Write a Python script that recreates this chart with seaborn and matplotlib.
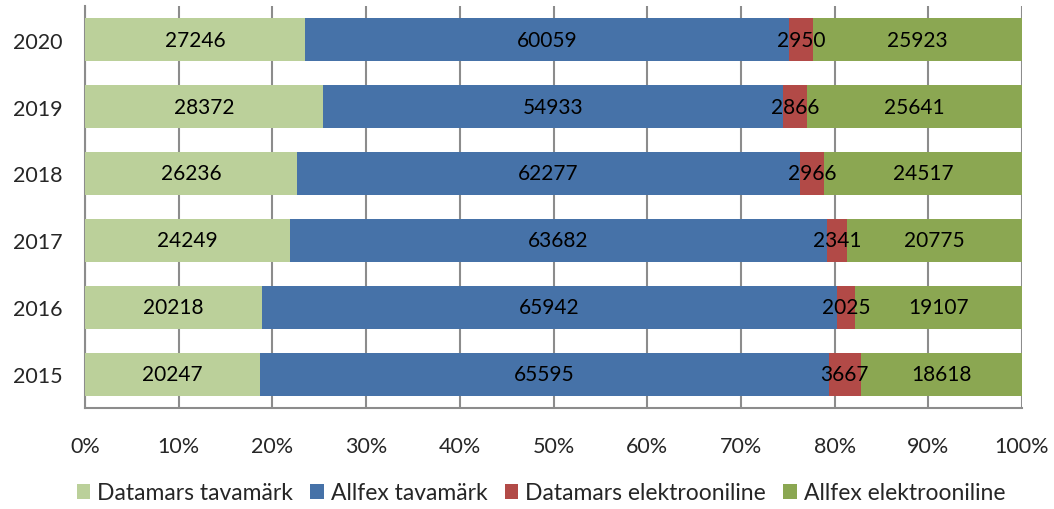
import matplotlib
matplotlib.use("Agg")
import matplotlib.pyplot as plt
from matplotlib.patches import Patch
import seaborn as sns
import pandas as pd
import numpy as np

years = ["2020", "2019", "2018", "2017", "2016", "2015"]
series_names = ["Datamars tavamärk", "Allfex tavamärk", "Datamars elektrooniline", "Allfex elektrooniline"]
datamars_tava = [27246, 28372, 26236, 24249, 20218, 20247]
allfex_tava = [60059, 54933, 62277, 63682, 65942, 65595]
datamars_elek = [2950, 2866, 2966, 2341, 2025, 3667]
allfex_elek = [25923, 25641, 24517, 20775, 19107, 18618]
colors = ["#BBD09A", "#4672A8", "#B24A47", "#8BA752"]
tick_labels = ["0%", "10%", "20%", "30%", "40%", "50%", "60%", "70%", "80%", "90%", "100%"]

sns.set_theme(style="white")
plt.rcParams["font.family"] = ["Lato", "DejaVu Sans"]

vals = np.array([datamars_tava, allfex_tava, datamars_elek, allfex_elek], dtype=float)
totals = vals.sum(axis=0)
pct = vals / totals * 100
cum = np.cumsum(pct, axis=0)

fig = plt.figure(figsize=(10.54, 5.10), dpi=100)
ax = fig.add_axes([85/1054, 1-409/510, (1022-85)/1054, (409-7)/510])

for i in range(3, -1, -1):
    df = pd.DataFrame({"year": years, "cum": cum[i]})
    sns.barplot(data=df, x="cum", y="year", order=years, color=colors[i],
                width=0.64, orient="h", ax=ax, saturation=1, zorder=3, linewidth=0)

for i in range(4):
    for j, y in enumerate(years):
        start = cum[i][j] - pct[i][j]
        ax.text(start + pct[i][j] / 2, j, f"{int(vals[i][j])}", ha="center", va="center",
                fontsize=15, color="black", zorder=5)

ax.set_xlim(0, 100)
ax.set_ylim(5.5, -0.5)
ax.set_xticks(np.arange(0, 101, 10))
ax.set_xticklabels(tick_labels)
ax.set_xlabel("")
ax.set_ylabel("")
ax.tick_params(axis="x", labelsize=15.5, pad=20, length=0)
ax.tick_params(axis="y", labelsize=15.5, pad=16, length=0)
ax.grid(axis="x", color="#8C8C8C", linewidth=1.5, zorder=0)
ax.set_axisbelow(True)
for s in ["top", "right"]:
    ax.spines[s].set_visible(False)
for s in ["left", "bottom"]:
    ax.spines[s].set_color("#8C8C8C")
    ax.spines[s].set_linewidth(1.5)

handles = [Patch(facecolor=c, edgecolor="none") for c in colors]
fig.legend(handles, series_names, loc="center", bbox_to_anchor=(541/1054, 1-494/510), ncol=4,
           frameon=False, fontsize=16.5, handlelength=0.6, handleheight=0.6,
           handletextpad=0.3, columnspacing=0.75)

fig.savefig("out.png", dpi=100)
